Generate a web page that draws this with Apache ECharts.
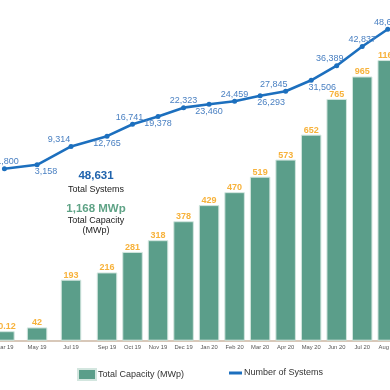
<!DOCTYPE html>
<html>
<head>
<meta charset="utf-8">
<script src="https://cdn.jsdelivr.net/npm/echarts@6/dist/echarts.min.js"></script>
<style>
html,body{margin:0;padding:0;background:#fff;}
#c{width:390px;height:390px;}
</style>
</head>
<body>
<div id="c"></div>
<script>
// ---- data ----
const months = ['Mar 19','May 19','Jul 19','Sep 19','Oct 19','Nov 19','Dec 19','Jan 20','Feb 20','Mar 20','Apr 20','May 20','Jun 20','Jul 20','Aug 20'];
// category slot on the (unevenly spaced) horizontal axis
const xSlot = [-4.02,-2.74,-1.41,0,1,2,3,4,5,6,7,8,9,10,11];
// printed capacity labels (MWp)
const capacity = [30.12,42,193,216,281,318,378,429,470,519,573,652,765,965,1168];
// bar heights as drawn in the picture (MWp on the bar scale)
const capacityDrawn = [30.12,42,193,216,281,318,378,429,470,519,573,652,765,836,888];
// number of systems
const systems = [1800,3158,9314,12765,16741,19378,22323,23460,24459,26293,27845,31506,36389,42837,48631];

const FONT = '"Liberation Sans", Arial, sans-serif';
const fmt = v => v.toLocaleString('en-US');

const labelPos = ['top','bottom','top','bottom','top','bottom','top','bottom','top','bottom','top','bottom','top','top','top'];
const labelShift = {0:[3,0],1:[9,0],2:[-12,0],4:[-3,0],9:[11,0],10:[-12,0],11:[11,0],12:[-7,0]};

const chart = echarts.init(document.getElementById('c'), null, {renderer:'canvas'});
const totalSys = systems[systems.length-1];
const totalCap = capacity[capacity.length-1];

chart.setOption({
  animation:false,
  backgroundColor:'#ffffff',
  grid:{left:0,right:0,top:0,bottom:49.3,outerBoundsMode:'none',containLabel:false},
  xAxis:{
    type:'value', min:-4.193, max:11.089,
    splitLine:{show:false},
    axisTick:{show:false},
    axisLine:{show:true,lineStyle:{color:'#cbb6a2',width:1.5}},
    axisLabel:{
      customValues:xSlot,
      margin:4,
      fontSize:5.8,
      color:'#555',
      fontFamily:FONT,
      formatter:function(v){
        let best=0,d=1e9;
        xSlot.forEach((s,i)=>{const dd=Math.abs(s-v); if(dd<d){d=dd;best=i;}});
        return months[best];
      }
    }
  },
  yAxis:[
    {type:'value',min:0,max:1078,show:false,splitLine:{show:false}},
    {type:'value',min:-55855,max:58437,show:false,splitLine:{show:false}}
  ],
  legend:[
    {data:[{name:'Total Capacity (MWp)',icon:'rect'}],left:72,top:363,itemWidth:18,itemHeight:11,
     textStyle:{fontSize:9,color:'#333',fontFamily:FONT,padding:[0,0,0,-3]}},
    {data:[{name:'Number of Systems',icon:'rect'}],left:224,top:363.5,itemWidth:13,itemHeight:3,
     textStyle:{fontSize:9,color:'#333',fontFamily:FONT,padding:[0,0,0,-3]}}
  ],
  series:[
    {
      name:'Total Capacity (MWp)',
      type:'bar',
      yAxisIndex:0,
      barWidth:20.5,
      itemStyle:{color:'#5b9e8a',borderColor:'#d3e6df',borderWidth:1},
      data:xSlot.map((s,i)=>[s,capacityDrawn[i]]),
      label:{
        show:true,position:'top',distance:0,
        color:'#f7b23b',fontWeight:'bold',fontSize:9,fontFamily:FONT,
        formatter:p=>String(capacity[p.dataIndex])
      },
      z:2
    },
    {
      name:'Number of Systems',
      type:'line',
      yAxisIndex:1,
      symbol:'circle',
      symbolSize:5,
      lineStyle:{color:'#1c6fbe',width:2.6},
      itemStyle:{color:'#1c6fbe'},
      data:xSlot.map((s,i)=>({
        value:[s,systems[i]],
        label:{position:labelPos[i],offset:labelShift[i]||[0,0]}
      })),
      label:{
        show:true,distance:0,
        color:'#4a80c2',fontSize:9,fontFamily:FONT,
        formatter:p=>fmt(systems[p.dataIndex])
      },
      z:5
    }
  ],
  graphic:[
    {type:'text',x:96,y:175.7,style:{text:fmt(totalSys),font:'bold 11.5px '+FONT,fill:'#2064ad',textAlign:'center',textVerticalAlign:'middle'}},
    {type:'text',x:96,y:189.3,style:{text:'Total Systems',font:'9px '+FONT,fill:'#222',textAlign:'center',textVerticalAlign:'middle'}},
    {type:'text',x:96,y:209,style:{text:fmt(totalCap)+' MWp',font:'bold 11.5px '+FONT,fill:'#5fa386',textAlign:'center',textVerticalAlign:'middle'}},
    {type:'text',x:96,y:220.7,style:{text:'Total Capacity',font:'9px '+FONT,fill:'#222',textAlign:'center',textVerticalAlign:'middle'}},
    {type:'text',x:96,y:231,style:{text:'(MWp)',font:'9px '+FONT,fill:'#222',textAlign:'center',textVerticalAlign:'middle'}}
  ]
});
</script>
</body>
</html>
